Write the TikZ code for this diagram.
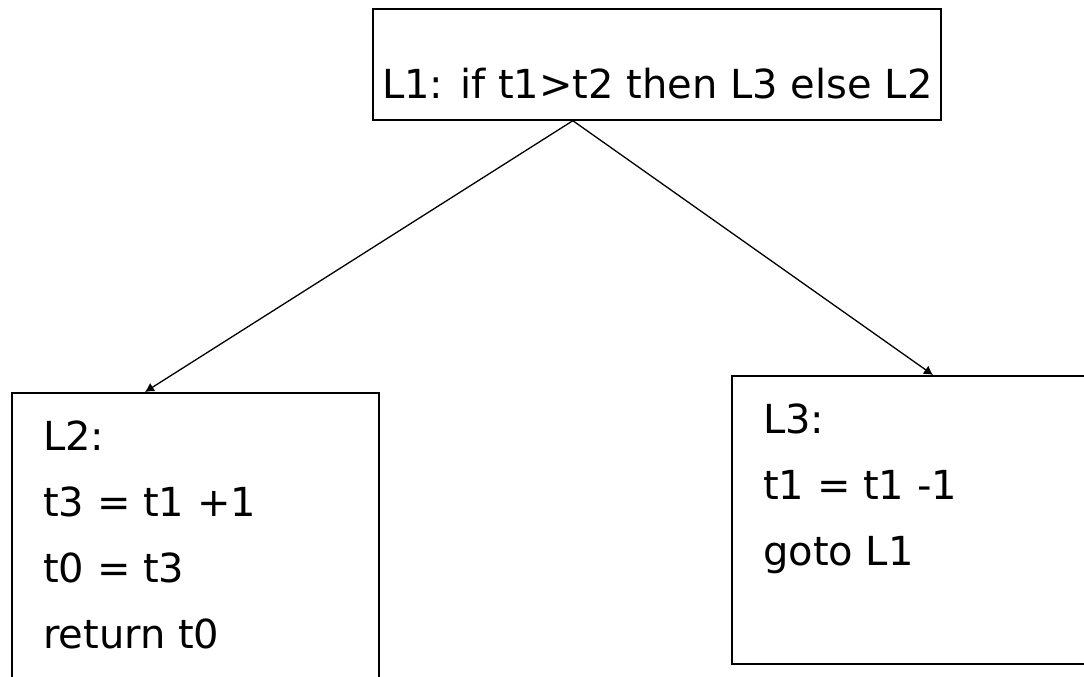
\documentclass[tikz,border=0pt]{standalone}
\usepackage{fontspec}
\setmainfont{DejaVu Sans}
\usetikzlibrary{arrows,arrows.meta,positioning}
\tikzstyle{blk}=[rectangle,draw=black,line width=1.7pt,anchor=north west,
  inner sep=0pt]
\tikzstyle{code}=[anchor=north west,align=left,inner sep=0pt,
  font=\fontsize{40}{66}\selectfont]
\tikzstyle{flow}=[-{Latex[length=9pt,width=10pt]},line width=1.3pt]

\begin{document}
\begin{tikzpicture}[x=1pt,y=-1pt]
            \useasboundingbox (0,0) rectangle (1084,677);
            \clip (0,0) rectangle (1084,677);
            \node [style=blk,minimum width=568pt,minimum height=111pt] (l1) at (372, 8) {};
            \node [style=blk,minimum width=367pt,minimum height=400pt] (l2) at (11, 392) {};
            \node [style=blk,minimum width=400pt,minimum height=288pt] (l3) at (731, 375) {};
            \node [style=code,anchor=base west] (l1txt) at (382, 99) {L1: if t1>t2 then L3 else L2};
            \node [style=code] (l2txt) at (43, 421) {L2:\\t3 = t1 +1\\t0 = t3\\return t0};
            \node [style=code] (l3txt) at (763, 404) {L3:\\t1 = t1 -1\\goto L1};
            \draw [style=flow] ([xshift=-84pt]l1.south) to ([xshift=134pt]l2.north west);
            \draw [style=flow] ([xshift=-84pt]l1.south) to ([xshift=202pt]l3.north west);
    \end{tikzpicture}
\end{document}
